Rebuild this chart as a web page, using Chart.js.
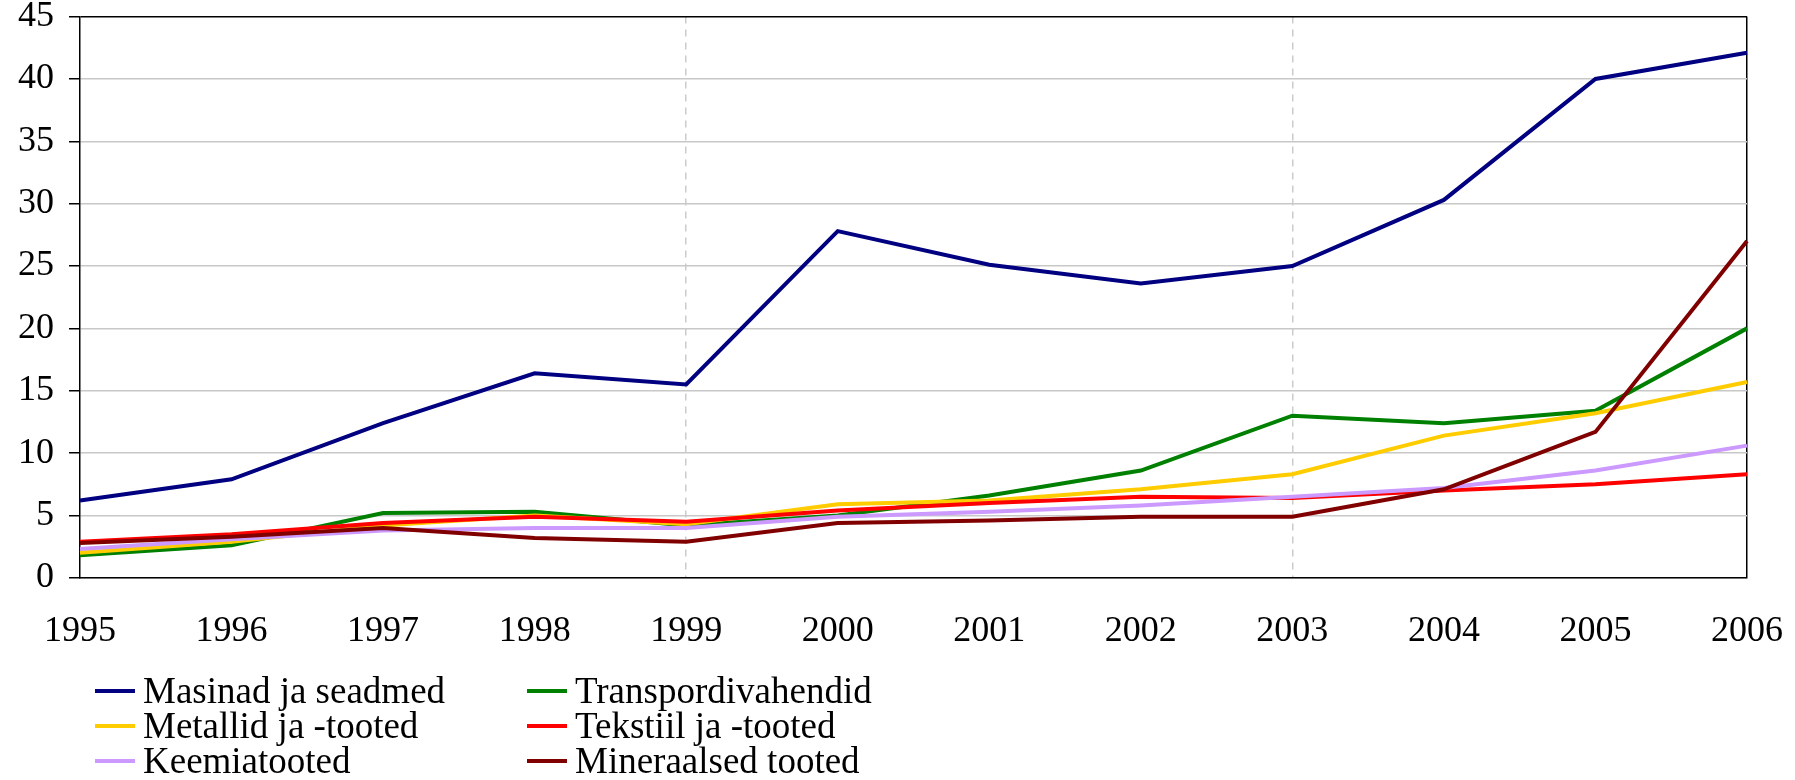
<!DOCTYPE html>
<html>
<head>
<meta charset="utf-8">
<script src="https://cdn.jsdelivr.net/npm/chart.js@4/dist/chart.umd.min.js"></script>
<style>
  body { margin: 0; background: #fff; }
  #wrap { position: relative; width: 1795px; height: 780px; overflow: hidden; }
  #chart { position: absolute; left: 0; top: -20px; }
  #legend {
    position: absolute; left: 95px; top: 673px;
    display: grid; grid-template-columns: 432px 400px;
    font-family: "Liberation Serif", "Times New Roman", serif;
    font-size: 37px; line-height: 35px; color: #000;
  }
  .item { display: flex; align-items: center; white-space: nowrap; }
  .swatch { width: 40px; height: 4px; margin-right: 8px; }
</style>
</head>
<body>
<div id="wrap">
  <canvas id="chart" width="1815" height="707"></canvas>
  <div id="legend"></div>
</div>
<script>
var years = ['1995', '1996', '1997', '1998', '1999', '2000', '2001', '2002', '2003', '2004', '2005', '2006'];
var yTicks = [0, 5, 10, 15, 20, 25, 30, 35, 40, 45];

var names = ['Masinad ja seadmed', 'Transpordivahendid', 'Metallid ja -tooted',
             'Tekstiil ja -tooted', 'Keemiatooted', 'Mineraalsed tooted'];
var colors = ['#000080', '#008000', '#FFCC00', '#FF0000', '#CC99FF', '#800000'];

var masinad     = [6.2, 7.9, 12.4, 16.4, 15.5, 27.8, 25.1, 23.6, 25.0, 30.3, 40.0, 42.1];
var transport   = [1.8, 2.6, 5.2, 5.3, 4.2, 5.0, 6.6, 8.6, 13.0, 12.4, 13.4, 20.0];
var metallid    = [2.0, 2.9, 4.2, 5.0, 4.3, 5.9, 6.2, 7.1, 8.3, 11.4, 13.2, 15.7];
var tekstiil    = [2.9, 3.5, 4.4, 4.9, 4.5, 5.4, 6.0, 6.5, 6.4, 7.0, 7.5, 8.3];
var keemia      = [2.3, 3.1, 3.8, 4.0, 4.0, 4.9, 5.3, 5.8, 6.5, 7.2, 8.6, 10.6];
var mineraalsed = [2.8, 3.3, 4.0, 3.2, 2.9, 4.4, 4.6, 4.9, 4.9, 7.1, 11.7, 27.0];

var series = [masinad, transport, metallid, tekstiil, keemia, mineraalsed];

var datasets = [];
for (var i = 0; i < series.length; i++) {
  datasets.push({
    label: names[i],
    data: series[i],
    borderColor: colors[i],
    backgroundColor: colors[i],
    borderWidth: 4,
    pointRadius: 0,
    tension: 0,
    order: series.length - i
  });
}

var font = { family: '"Liberation Serif", "Times New Roman", serif', size: 36 };

var chart = new Chart(document.getElementById('chart'), {
  type: 'line',
  data: { labels: years, datasets: datasets },
  options: {
    responsive: false,
    animation: false,
    layout: { padding: { left: 3, right: 14, top: 12, bottom: 2 } },
    plugins: { legend: { display: false }, tooltip: { enabled: false } },
    scales: {
      x: {
        offset: false,
        grid: {
          drawTicks: false,
          lineWidth: 1.5,
          color: function(ctx) {
            if (ctx.index === 11) return '#000';
            if (ctx.index === 4 || ctx.index === 8) return '#cccccc';
            return 'rgba(0,0,0,0)';
          }
        },
        border: {
          color: '#000', width: 1.5,
          dash: function(ctx) {
            return (ctx.index === 4 || ctx.index === 8) ? [7, 6] : [];
          }
        },
        ticks: { color: '#000', font: font, padding: 32, maxRotation: 0, autoSkip: false }
      },
      y: {
        min: 0, max: 45,
        afterBuildTicks: function(axis) {
          axis.ticks = yTicks.map(function(v) { return { value: v }; });
        },
        grid: {
          lineWidth: 1.5,
          tickLength: 11,
          tickColor: '#000',
          color: function(ctx) {
            return ctx.tick && ctx.tick.value === 45 ? '#000' : '#c8c8c8';
          }
        },
        border: { color: '#000', width: 1.5 },
        ticks: { color: '#000', font: font, padding: 15 }
      }
    }
  }
});

var legend = document.getElementById('legend');
chart.data.datasets.forEach(function(ds) {
  var item = document.createElement('div');
  item.className = 'item';
  item.innerHTML = '<span class="swatch" style="background:' + ds.borderColor + '"></span>' + ds.label;
  legend.appendChild(item);
});
</script>
</body>
</html>
